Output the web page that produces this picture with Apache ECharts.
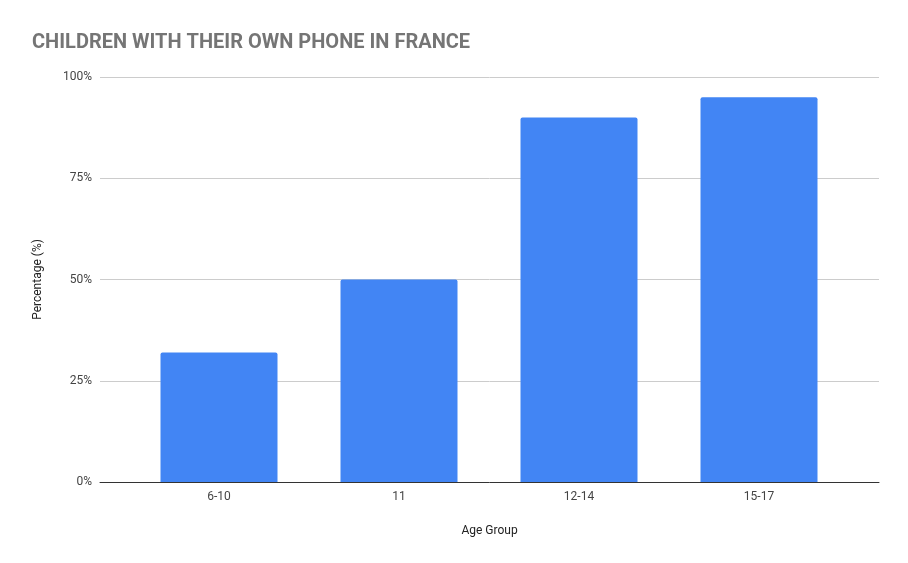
<!DOCTYPE html>
<html><head><meta charset="utf-8">
<script src="https://cdn.jsdelivr.net/npm/echarts@6/dist/echarts.min.js"></script>
<style>html,body{margin:0;padding:0;background:#fff}#c{width:908px;height:563px}</style>
</head><body><div id="c"></div>
<script>
const categories = ["6-10", "11", "12-14", "15-17"];
const values = [32, 50, 90, 95];
const titleText = "CHILDREN WITH THEIR OWN PHONE IN FRANCE";
const chart = echarts.init(document.getElementById('c'));
chart.setOption({
  animation: false,
  title: { text: titleText, left: 27, top: 28, textStyle: { fontFamily: 'Roboto', fontSize: 20, fontWeight: 'bold', color: '#757575' } },
  grid: [{ left: 100, right: 29, top: 77, bottom: 81 }, { left: 129, right: 59, top: 77, bottom: 81 }],
  xAxis: [
    { gridIndex: 0, type: 'category', data: categories, name: 'Age Group', nameLocation: 'middle', nameGap: 43,
      nameTextStyle: { fontFamily: 'Roboto', fontSize: 12, color: '#222' },
      axisTick: { show: false }, axisLabel: { show: false }, axisLine: { lineStyle: { color: '#333' } } },
    { gridIndex: 1, type: 'category', data: categories, axisTick: { show: false }, axisLine: { show: false },
      axisLabel: { fontFamily: 'Roboto', fontSize: 12, color: '#444', margin: 9 } }
  ],
  yAxis: [
    { gridIndex: 0, type: 'value', min: 0, max: 100, interval: 25, name: 'Percentage (%)', nameLocation: 'middle', nameGap: 56,
      nameTextStyle: { fontFamily: 'Roboto', fontSize: 12, color: '#222' },
      axisLabel: { formatter: '{value}%', fontFamily: 'Roboto', fontSize: 12, color: '#444', margin: 8 },
      splitLine: { lineStyle: { color: '#ccc' } } },
    { gridIndex: 1, type: 'value', min: 0, max: 100, show: false }
  ],
  series: [{ type: 'bar', xAxisIndex: 1, yAxisIndex: 1, data: values, barWidth: 117, itemStyle: { color: '#4285f4', borderRadius: [2,2,0,0] } }]
});
</script></body></html>
